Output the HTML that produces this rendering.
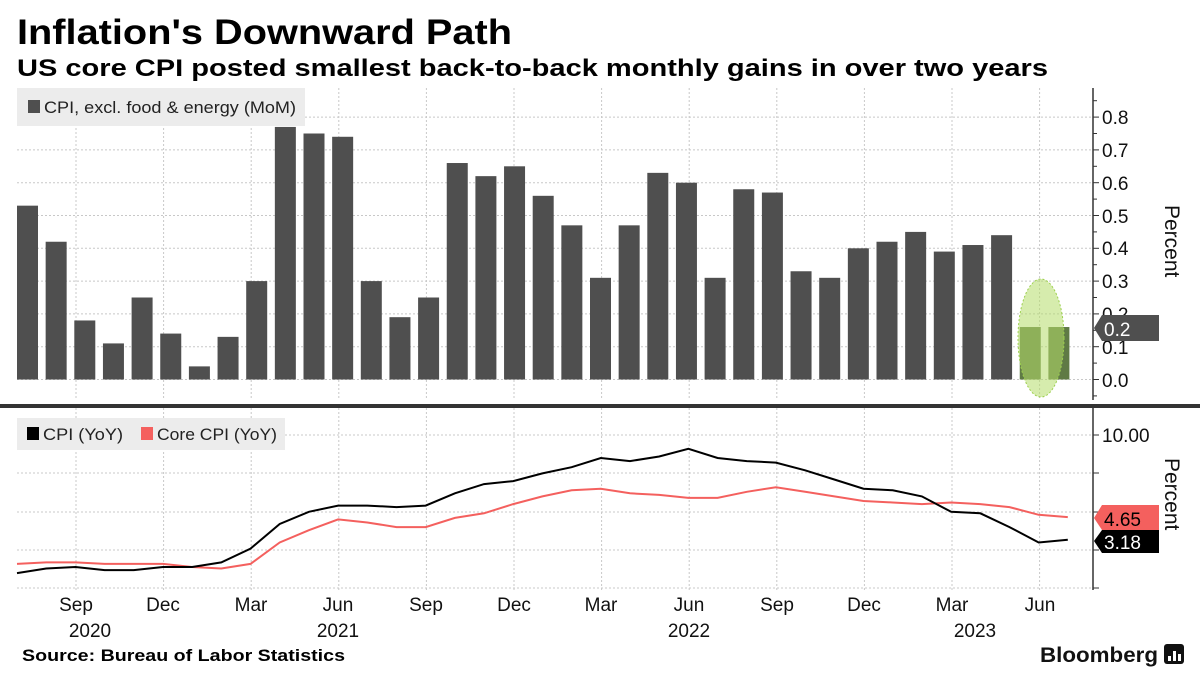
<!DOCTYPE html>
<html><head><meta charset="utf-8"><style>
html,body{margin:0;padding:0;background:#fff;}
svg{display:block;font-family:"Liberation Sans","DejaVu Sans",sans-serif;}
</style></head><body>
<svg id="s" width="1200" height="675" viewBox="0 0 1200 675" xmlns="http://www.w3.org/2000/svg">
<rect width="1200" height="675" fill="#fff"/>
<g id="grid"></g>
<rect x="17" y="88" width="288" height="38" fill="#ececec"/>
<rect x="17" y="418" width="268" height="32" fill="#ececec"/>
<g id="bars"></g>
<ellipse cx="1041" cy="338" rx="23" ry="59" fill="#b5dc6a" fill-opacity="0.55" stroke="#9ccf4e" stroke-dasharray="2,2"/>
<g id="lines"></g>
<text x="17" y="44" font-size="35" font-weight="bold" textLength="495" lengthAdjust="spacingAndGlyphs">Inflation's Downward Path</text>
<text x="17" y="76" font-size="24" font-weight="bold" textLength="1031" lengthAdjust="spacingAndGlyphs">US core CPI posted smallest back-to-back monthly gains in over two years</text>
<rect x="28" y="100" width="12" height="13" fill="#4f4f4f"/>
<text x="44" y="113" font-size="17" fill="#222" textLength="252" lengthAdjust="spacingAndGlyphs">CPI, excl. food &amp; energy (MoM)</text>
<rect x="27" y="427" width="12" height="13" fill="#000"/>
<text x="43" y="440" font-size="17" fill="#222" textLength="80" lengthAdjust="spacingAndGlyphs">CPI (YoY)</text>
<rect x="141" y="427" width="12" height="13" fill="#f4605e"/>
<text x="157" y="440" font-size="17" fill="#222" textLength="120" lengthAdjust="spacingAndGlyphs">Core CPI (YoY)</text>
<!-- axes -->
<line x1="1093" y1="88" x2="1093" y2="400" stroke="#333" stroke-width="1.5"/>
<line x1="1093" y1="408" x2="1093" y2="590" stroke="#333" stroke-width="1.5"/>
<rect x="0" y="404" width="1200" height="4" fill="#333"/>
<g font-size="19" fill="#111">
<text x="1102" y="124">0.8</text><text x="1102" y="157">0.7</text><text x="1102" y="190">0.6</text>
<text x="1102" y="223">0.5</text><text x="1102" y="255">0.4</text><text x="1102" y="288">0.3</text>
<text x="1102" y="321">0.2</text><text x="1102" y="354">0.1</text><text x="1102" y="387">0.0</text>
<text x="1102" y="442">10.00</text><text x="1102" y="519">5.00</text>
</g>
<text transform="translate(1165,205) rotate(90)" font-size="21" fill="#111">Percent</text>
<text transform="translate(1165,458) rotate(90)" font-size="21" fill="#111">Percent</text>
<path d="M1094,328 L1102,315 L1159,315 L1159,341 L1102,341 Z" fill="#4f4f4f"/>
<text x="1104" y="336" font-size="19" fill="#fff">0.2</text>
<path d="M1094,518 L1102,505 L1159,505 L1159,530 L1102,530 Z" fill="#f4605e"/>
<text x="1104" y="526" font-size="19" fill="#000">4.65</text>
<path d="M1094,541 L1102,530 L1159,530 L1159,553 L1102,553 Z" fill="#000"/>
<text x="1104" y="549" font-size="19" fill="#fff">3.18</text>
<g font-size="19" fill="#111" text-anchor="middle">
<text x="76" y="611">Sep</text><text x="163" y="611">Dec</text><text x="251" y="611">Mar</text><text x="338" y="611">Jun</text>
<text x="426" y="611">Sep</text><text x="514" y="611">Dec</text><text x="601" y="611">Mar</text><text x="689" y="611">Jun</text>
<text x="777" y="611">Sep</text><text x="864" y="611">Dec</text><text x="952" y="611">Mar</text><text x="1040" y="611">Jun</text>
<text x="90" y="637">2020</text><text x="338" y="637">2021</text><text x="689" y="637">2022</text><text x="975" y="637">2023</text>
</g>
<text x="22" y="661" font-size="17" font-weight="bold" textLength="323" lengthAdjust="spacingAndGlyphs">Source: Bureau of Labor Statistics</text>
<text x="1040" y="662" font-size="21" font-weight="bold" fill="#111" textLength="118" lengthAdjust="spacingAndGlyphs">Bloomberg</text>
<rect x="1164" y="644" width="20" height="20" rx="3" fill="#111"/>
<rect x="1168" y="656" width="3" height="5" fill="#fff"/><rect x="1173" y="651" width="3" height="10" fill="#fff"/><rect x="1178" y="654" width="3" height="7" fill="#fff"/>
</svg>
<script>
var NS="http://www.w3.org/2000/svg";
function el(p,t,a){var e=document.createElementNS(NS,t);for(var k in a)e.setAttribute(k,a[k]);document.getElementById(p).appendChild(e);return e;}
// grid
for(var v=0;v<=8;v++){var y=379.5-v*32.8;el("grid","line",{x1:17,x2:1093,y1:y,y2:y,stroke:"#c8c8c8","stroke-dasharray":"2,2"});}
[435,473,512,550,588].forEach(function(y){el("grid","line",{x1:17,x2:1093,y1:y,y2:y,stroke:"#c8c8c8","stroke-dasharray":"2,2"});});
for(var k=0;k<12;k++){var x=76+k*87.6;el("grid","line",{x1:x,x2:x,y1:88,y2:400,stroke:"#c8c8c8","stroke-dasharray":"2,2"});el("grid","line",{x1:x,x2:x,y1:408,y2:590,stroke:"#c8c8c8","stroke-dasharray":"2,2"});}
// ticks
for(var v=-0.5;v<=8.5;v+=0.5){var y=379.5-v*32.8;el("grid","line",{x1:1093,x2:v%1==0?1099:1097,y1:y,y2:y,stroke:"#333"});}
[435,473,512,550,588].forEach(function(y){el("grid","line",{x1:1093,x2:1099,y1:y,y2:y,stroke:"#333"});});
var b=[0.53,0.42,0.18,0.11,0.25,0.14,0.04,0.13,0.30,0.77,0.75,0.74,0.30,0.19,0.25,0.66,0.62,0.65,0.56,0.47,0.31,0.47,0.63,0.60,0.31,0.58,0.57,0.33,0.31,0.40,0.42,0.45,0.39,0.41,0.44,0.16,0.16];
b.forEach(function(v,i){var x=17+i*28.65,h=v*328;el("bars","rect",{x:x,y:379.5-h,width:21,height:h,fill:i>=35?"#5f7a45":"#4f4f4f"});});
var cpi=[1.0,1.3,1.4,1.2,1.2,1.4,1.4,1.7,2.6,4.2,5.0,5.4,5.4,5.3,5.4,6.2,6.8,7.0,7.5,7.9,8.5,8.3,8.6,9.1,8.5,8.3,8.2,7.7,7.1,6.5,6.4,6.0,5.0,4.9,4.0,3.0,3.18];
var core=[1.6,1.7,1.7,1.6,1.6,1.6,1.4,1.3,1.6,3.0,3.8,4.5,4.3,4.0,4.0,4.6,4.9,5.5,6.0,6.4,6.5,6.2,6.1,5.9,5.9,6.3,6.6,6.3,6.0,5.7,5.6,5.5,5.6,5.5,5.3,4.8,4.65];
function pts(a){return a.map(function(v,i){return (17+i*29.19).toFixed(1)+","+(588.5-v*15.35).toFixed(1);}).join(" ");}
el("lines","polyline",{points:pts(core),fill:"none",stroke:"#f4605e","stroke-width":2});
el("lines","polyline",{points:pts(cpi),fill:"none",stroke:"#000","stroke-width":2});
</script>
</body></html>
